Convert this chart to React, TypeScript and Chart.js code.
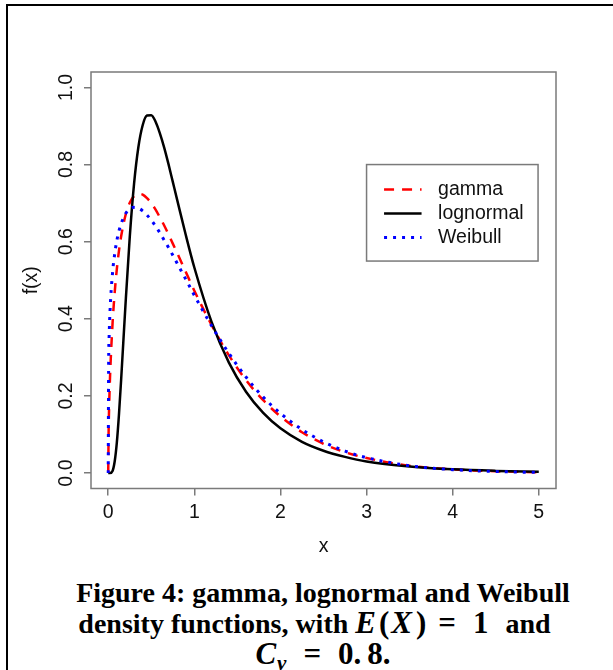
import React, { useEffect, useRef } from "react";
import { Chart, registerables } from "chart.js";

Chart.register(...registerables);

// ---- data ----
const X_VALUES = [0, 0.005, 0.01, 0.02, 0.05, 0.075, 0.1, 0.125, 0.15, 0.2, 0.25, 0.3, 0.35, 0.4, 0.45, 0.5, 0.55, 0.6, 0.65, 0.7, 0.75, 0.8, 0.9, 1.0, 1.2, 1.4, 1.6, 1.8, 2.0, 2.25, 2.5, 2.75, 3.0, 3.5, 4.0, 4.5, 5.0];
const GAMMA = [0, 0.114, 0.167, 0.243, 0.387, 0.468, 0.529, 0.577, 0.614, 0.668, 0.701, 0.718, 0.724, 0.722, 0.713, 0.700, 0.683, 0.663, 0.642, 0.619, 0.595, 0.571, 0.522, 0.473, 0.384, 0.306, 0.241, 0.189, 0.147, 0.106, 0.076, 0.054, 0.039, 0.019, 0.0095, 0.0047, 0.0023];
const LOGNORMAL = [0, 0, 0, 0, 0.0055, 0.030, 0.079, 0.153, 0.242, 0.435, 0.612, 0.750, 0.845, 0.902, 0.927, 0.928, 0.911, 0.881, 0.844, 0.801, 0.755, 0.709, 0.618, 0.533, 0.392, 0.287, 0.211, 0.156, 0.116, 0.081, 0.058, 0.042, 0.030, 0.017, 0.0096, 0.0057, 0.0035];
const WEIBULL = [0, 0.292, 0.349, 0.416, 0.519, 0.568, 0.603, 0.628, 0.647, 0.672, 0.685, 0.689, 0.687, 0.680, 0.669, 0.656, 0.640, 0.623, 0.604, 0.585, 0.565, 0.544, 0.503, 0.461, 0.382, 0.311, 0.249, 0.197, 0.155, 0.113, 0.081, 0.057, 0.040, 0.019, 0.0089, 0.0040, 0.0017];
const SERIES_LABELS = ["gamma", "lognormal", "Weibull"];
const X_TICKS = [0, 1, 2, 3, 4, 5];
const Y_TICKS = [0, 0.2, 0.4, 0.6, 0.8, 1.0];
const X_TITLE = "x";
const Y_TITLE = "f(x)";
const LEGEND_ANCHOR = [3, 0.8];

// ---- styles ----
const SANS = "'Liberation Sans', Arial, Helvetica, sans-serif";
const AXIS_FONT = { family: SANS, size: 19.5 };
const BOX_COLOR = "#7a7a7a";
const TICK_COLOR = "#7a7a7a";
const TEXT_COLOR = "#111111";

const rFramePlugin = {
  id: "rFrame",
  afterDraw(chart: any) {
    const { ctx, chartArea: a, scales } = chart;
    ctx.save();
    ctx.strokeStyle = BOX_COLOR;
    ctx.lineWidth = 1.5;
    ctx.setLineDash([]);
    ctx.strokeRect(a.left, a.top, a.right - a.left, a.bottom - a.top);

    // legend box
    const lx = scales.x.getPixelForValue(LEGEND_ANCHOR[0]);
    const ly = scales.y.getPixelForValue(LEGEND_ANCHOR[1]);
    const w = 171.5;
    const h = 96.5;
    ctx.fillStyle = "#ffffff";
    ctx.fillRect(lx, ly, w, h);
    ctx.strokeStyle = BOX_COLOR;
    ctx.lineWidth = 1.5;
    ctx.strokeRect(lx, ly, w, h);
    chart.data.datasets.forEach((ds: any, i: number) => {
      const y = ly + 25 + i * 24;
      ctx.beginPath();
      ctx.setLineDash(ds.borderDash || []);
      ctx.lineCap = "butt";
      ctx.strokeStyle = ds.borderColor;
      ctx.lineWidth = ds.borderWidth;
      ctx.moveTo(lx + 17.5, y);
      ctx.lineTo(lx + 55, y);
      ctx.stroke();
      ctx.setLineDash([]);
      ctx.fillStyle = TEXT_COLOR;
      ctx.font = `${AXIS_FONT.size}px ${SANS}`;
      ctx.textBaseline = "middle";
      ctx.textAlign = "left";
      ctx.fillText(ds.label, lx + 71.5, y);
    });
    ctx.restore();
  },
};

function DensityChart() {
  const ref = useRef<HTMLCanvasElement | null>(null);
  useEffect(() => {
    if (!ref.current) return;
    const toPts = (ys: number[]) => X_VALUES.map((x, i) => ({ x, y: ys[i] }));
    const chart = new Chart(ref.current, {
      type: "line",
      data: {
        datasets: [
          {
            label: SERIES_LABELS[0],
            data: toPts(GAMMA),
            borderColor: "#ff0000",
            borderWidth: 2.5,
            borderDash: [10, 8],
            pointRadius: 0,
            fill: false,
            cubicInterpolationMode: "monotone",
            order: 2,
          },
          {
            label: SERIES_LABELS[1],
            data: toPts(LOGNORMAL),
            borderColor: "#000000",
            borderWidth: 2.5,
            borderDash: [],
            pointRadius: 0,
            fill: false,
            cubicInterpolationMode: "monotone",
            order: 1,
          },
          {
            label: SERIES_LABELS[2],
            data: toPts(WEIBULL),
            borderColor: "#0000ff",
            borderWidth: 3,
            borderDash: [3, 6],
            pointRadius: 0,
            fill: false,
            cubicInterpolationMode: "monotone",
            order: 0,
          },
        ],
      },
      options: {
        responsive: false,
        maintainAspectRatio: false,
        animation: false,
        layout: { padding: { left: 20.3, right: 57, top: 72, bottom: 2 } },
        plugins: { legend: { display: false }, tooltip: { enabled: false } },
        scales: {
          x: {
            type: "linear",
            min: -0.2,
            max: 5.2,
            afterBuildTicks: (s: any) => {
              s.ticks = X_TICKS.map((v) => ({ value: v }));
            },
            afterFit: (s: any) => {
              s.height = 69.5;
            },
            border: { display: false },
            grid: { display: true, drawOnChartArea: false, drawTicks: true, tickLength: 7, color: TICK_COLOR, lineWidth: 1.5 },
            ticks: { font: AXIS_FONT, color: TEXT_COLOR, padding: 5, maxRotation: 0, minRotation: 0, callback: (v: any) => String(v) },
            title: { display: true, text: X_TITLE, font: AXIS_FONT, color: TEXT_COLOR, padding: { top: 0, bottom: 0 } },
          },
          y: {
            type: "linear",
            min: -0.04,
            max: 1.04,
            afterBuildTicks: (s: any) => {
              s.ticks = Y_TICKS.map((v) => ({ value: v }));
            },
            afterFit: (s: any) => {
              s.width = 70.7;
            },
            border: { display: false },
            grid: { display: true, drawOnChartArea: false, drawTicks: true, tickLength: 7, color: TICK_COLOR, lineWidth: 1.5 },
            ticks: {
              font: AXIS_FONT,
              color: TEXT_COLOR,
              padding: 3.5,
              minRotation: 90,
              maxRotation: 90,
              crossAlign: "center",
              callback: (v: any) => Number(v).toFixed(1),
            },
            title: { display: true, text: Y_TITLE, font: AXIS_FONT, color: TEXT_COLOR, padding: { top: 0, bottom: 0 } },
          },
        },
      },
      plugins: [rFramePlugin],
    } as any);
    return () => chart.destroy();
  }, []);
  return <canvas ref={ref} width={613} height={560} style={{ position: "absolute", left: 0, top: 0 }} />;
}

export default function App() {
  const serif = "'Liberation Serif', 'Times New Roman', Times, serif";
  const math: React.CSSProperties = { fontSize: 31 };
  return (
    <div style={{ position: "fixed", left: 0, top: 0, width: 613, height: 670, overflow: "hidden", background: "#ffffff" }}>
      <div
        style={{
          position: "absolute",
          left: 6,
          top: 4,
          width: 700,
          height: 700,
          borderLeft: "2px solid #000",
          borderTop: "2px solid #000",
          boxSizing: "border-box",
        }}
      />
      <DensityChart />
      <div
        style={{
          position: "absolute",
          left: 23,
          width: 600,
          top: 578,
          textAlign: "center",
          fontFamily: serif,
          fontWeight: "bold",
          fontSize: 28,
          lineHeight: "30px",
          color: "#000",
          whiteSpace: "nowrap",
        }}
      >
        <div>Figure 4: gamma, lognormal and Weibull</div>
        <div style={{ paddingRight: 17 }}>
          density functions, with{" "}
          <span style={math}>
            <i style={{ marginRight: 3 }}>E</i>
            <span style={{ marginRight: 2 }}>(</span>
            <i style={{ marginRight: 4 }}>X</i>)
            <span style={{ marginLeft: 12, marginRight: 17 }}>=</span>1
          </span>
          <span style={{ marginLeft: 17 }}>and</span>
        </div>
        <div>
          <span style={math}>
            <i>C</i>
            <i style={{ fontSize: 21, verticalAlign: "-0.3em", lineHeight: 0, marginLeft: 1 }}>v</i>
            <span style={{ marginLeft: 17, marginRight: 17 }}>=</span>0.<span style={{ marginLeft: 6 }}>8.</span>
          </span>
        </div>
      </div>
    </div>
  );
}
